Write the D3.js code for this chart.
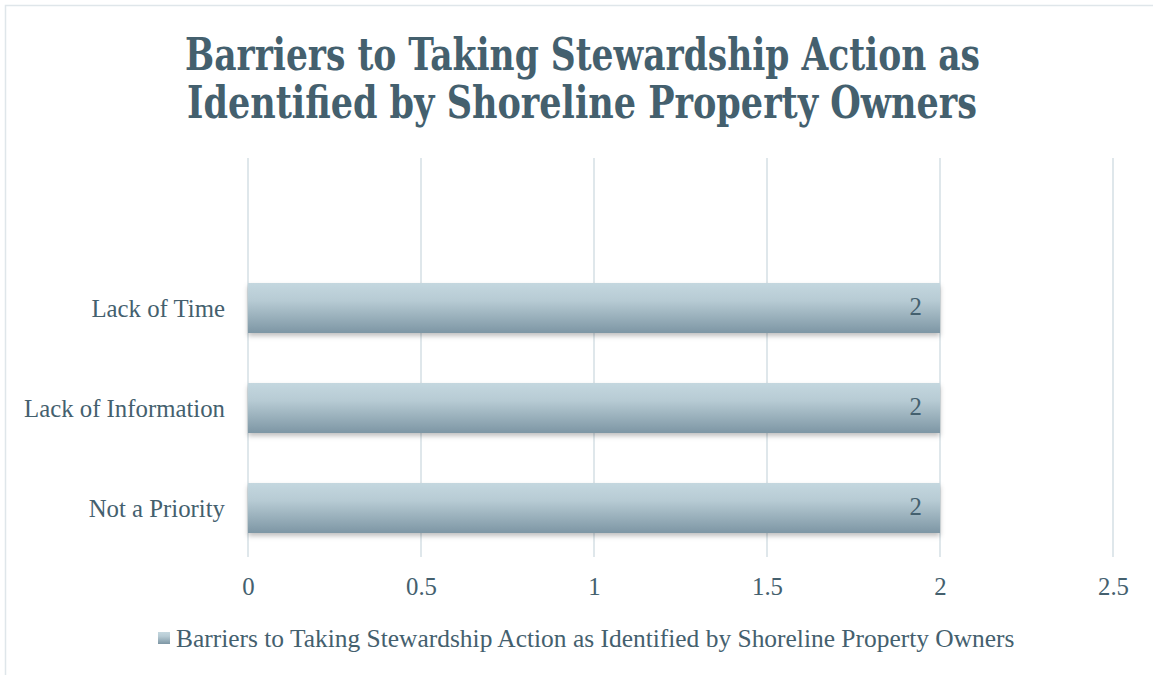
<!DOCTYPE html>
<html><head><meta charset="utf-8">
<script src="https://cdn.jsdelivr.net/npm/d3@7"></script>
<style>body{margin:0;background:#fff}svg{display:block}text{font-family:"Liberation Serif",serif}text.title{font-family:"DejaVu Serif Condensed","Liberation Serif",serif}</style>
</head><body>
<svg id="c" width="1153" height="675"></svg>
<script>
const categories = ["Lack of Time", "Lack of Information", "Not a Priority"];
const values = [2, 2, 2];
const xTicks = [0, 0.5, 1, 1.5, 2, 2.5];
const titleLines = ["Barriers to Taking Stewardship Action as", "Identified by Shoreline Property Owners"];
const seriesName = "Barriers to Taking Stewardship Action as Identified by Shoreline Property Owners";

const svg = d3.select("#c");
const txt = "#44606e";
const defs = svg.append("defs");
const g1 = defs.append("linearGradient").attr("id","bg").attr("x1",0).attr("y1",0).attr("x2",0).attr("y2",1);
g1.append("stop").attr("offset","0%").attr("stop-color","#c4d7df");
g1.append("stop").attr("offset","35%").attr("stop-color","#b7cbd4");
g1.append("stop").attr("offset","100%").attr("stop-color","#7d96a4");
const f = defs.append("filter").attr("id","sh").attr("x","-5%").attr("y","-20%").attr("width","110%").attr("height","160%");
f.append("feDropShadow").attr("dx",0).attr("dy",3).attr("stdDeviation",2.5).attr("flood-color","#000").attr("flood-opacity",0.25);

// fit font size so text spans target width
function fit(sel, target){
  const n = sel.node();
  const fs = parseFloat(sel.attr("font-size"));
  const w = n.getComputedTextLength();
  sel.attr("font-size", (fs*target/w).toFixed(2));
}

// border
svg.append("rect").attr("x",5.5).attr("y",5.5).attr("width",1160).attr("height",680).attr("fill","none").attr("stroke","#dfe6ea").attr("stroke-width",1.5);

// title
const tl = [{t:titleLines[0], y:70, w:795, x:582.5},{t:titleLines[1], y:118, w:790, x:582}];
tl.forEach(d=>{
  svg.append("text").attr("class","title").attr("x",d.x).attr("y",d.y).attr("text-anchor","middle")
    .attr("font-size",45).attr("font-weight","bold").attr("fill",txt)
    .attr("textLength",d.w).attr("lengthAdjust","spacingAndGlyphs").text(d.t);
});

const x = d3.scaleLinear().domain([0,2.5]).range([248,1113]);
const y = d3.scaleBand().domain(categories).range([258,558]).paddingInner(0.5).paddingOuter(0.25);

// grid
svg.append("g").selectAll("line").data(xTicks).join("line")
  .attr("x1",d=>x(d)).attr("x2",d=>x(d)).attr("y1",158).attr("y2",557)
  .attr("stroke","#dfe7eb").attr("stroke-width",2);

// bars
svg.append("g").selectAll("rect").data(categories).join("rect")
  .attr("x",x(0)).attr("y",d=>y(d)).attr("width",(d,i)=>x(values[i])-x(0)).attr("height",y.bandwidth())
  .attr("fill","url(#bg)").attr("filter","url(#sh)");

// label font size derived from "Lack of Information" width
const probe = svg.append("text").attr("font-size",20).text("Lack of Information");
fit(probe, 201);
const lfs = +probe.attr("font-size");
probe.remove();

// value labels
svg.append("g").selectAll("text").data(categories).join("text")
  .attr("x",(d,i)=>x(values[i])-18).attr("y",d=>y(d)+y.bandwidth()/2+7)
  .attr("text-anchor","end").attr("font-size",lfs).attr("fill",txt)
  .text((d,i)=>values[i]);

// x axis
const xa = svg.append("g").attr("transform","translate(0,595)").call(d3.axisBottom(x).tickValues(xTicks).tickSize(0).tickPadding(0).tickFormat(d3.format("")));
xa.select(".domain").remove();
xa.selectAll("text").attr("font-size",lfs).attr("fill",txt).attr("dy",0).attr("y",0);

// y axis
const ya = svg.append("g").attr("transform","translate(225,0)").call(d3.axisLeft(y).tickSize(0).tickPadding(0));
ya.select(".domain").remove();
ya.selectAll("text").attr("font-size",lfs).attr("fill",txt).attr("dy","0.35em");

// legend
svg.append("rect").attr("x",158).attr("y",632).attr("width",12).attr("height",12).attr("fill","url(#bg)");
const lg = svg.append("text").attr("x",176).attr("y",647).attr("font-size",20).attr("fill",txt).text(seriesName);
fit(lg, 839);
</script>
</body></html>
